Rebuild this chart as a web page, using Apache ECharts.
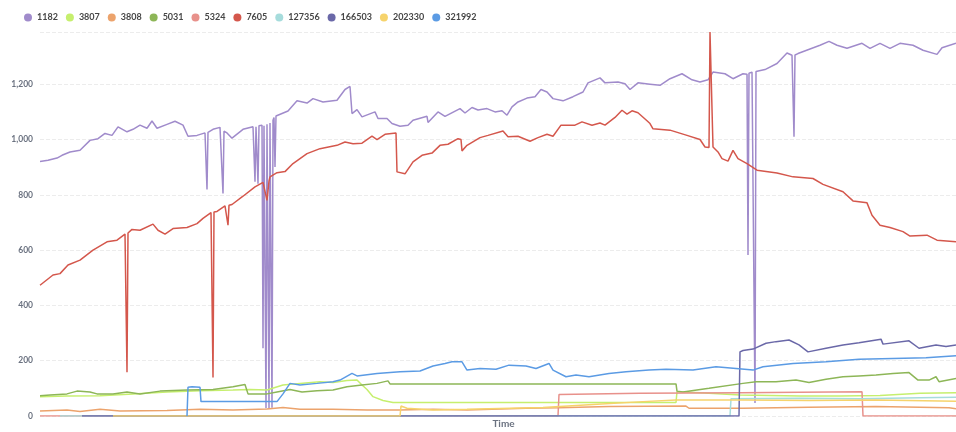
<!DOCTYPE html>
<html>
<head>
<meta charset="utf-8">
<script src="https://cdn.jsdelivr.net/npm/echarts@6/dist/echarts.min.js"></script>
<style>
  html, body { margin: 0; padding: 0; background: #fff; }
  #chart { width: 956px; height: 432px; }
</style>
</head>
<body>
<div id="chart"></div>
<script>
// series names (legend order) and colours
const names = ['1182', '3807', '3808', '5031', '5324', '7605', '127356', '166503', '202330', '321992'];
const colors = ['#a08bcb', '#c6ef6e', '#eca36c', '#8db657', '#e8918b', '#d4574c', '#a6dcdc', '#6a68a8', '#f6d36c', '#5b9be4'];

// [time, value] samples
const s1182 = [[0,921],[8,925],[17,933],[22,943],[30,955],[40,961],[50,997],[58,1003],[65,1022],[72,1015],[78,1046],[87,1028],[93,1037],[100,1052],[107,1041],[112,1067],[117,1041],[127,1055],[135,1066],[143,1052],[148,1012],[157,1015],[165,1024],[166,1022],[167,819],[168,1026],[173,1037],[180,1044],[182,1040],[183,805],[184,1030],[187,1024],[192,1005],[203,1037],[213,1046],[214,1045],[215,847],[216,1046],[217,1048],[218,840],[219,1050],[222,1052],[223,245],[224,1050],[225,1046],[226,28],[227,1055],[228,1050],[229,26],[230,1060],[231,1062],[232,30],[233,1070],[234,1080],[235,901],[236,1085],[237,1088],[248,1103],[257,1140],[267,1132],[273,1148],[283,1136],[297,1142],[305,1181],[310,1192],[312,1094],[317,1108],[322,1082],[335,1100],[338,1076],[347,1076],[352,1058],[360,1048],[368,1052],[373,1070],[387,1084],[388,1062],[398,1100],[405,1084],[420,1112],[425,1096],[432,1116],[438,1107],[447,1112],[455,1100],[462,1104],[467,1088],[472,1118],[478,1136],[487,1150],[495,1155],[501,1181],[507,1172],[513,1148],[523,1140],[533,1155],[543,1172],[548,1205],[560,1223],[565,1205],[578,1208],[585,1202],[590,1181],[598,1205],[610,1200],[620,1196],[630,1220],[642,1238],[652,1216],[660,1208],[668,1216],[673,1244],[685,1238],[693,1220],[703,1238],[707,1236],[708,582],[709,1240],[712,1244],[714,1245],[715,47],[716,1246],[717,1248],[725,1253],[737,1275],[747,1313],[752,1305],[753,1305],[754,1010],[755,1306],[758,1311],[768,1325],[780,1341],[789,1355],[797,1341],[807,1330],[822,1348],[830,1330],[840,1348],[850,1330],[860,1348],[873,1341],[883,1323],[897,1308],[902,1332],[916,1348]];
const s3807 = [[0,70],[27,72],[60,73],[93,80],[127,87],[160,91],[193,94],[210,96],[227,94],[243,112],[260,118],[280,124],[293,121],[307,128],[317,130],[322,112],[327,96],[333,70],[343,56],[353,49],[636,49],[637,88],[660,84],[700,76],[760,72],[800,72],[840,74],[880,82],[916,84]];
const s3808 = [[0,18],[27,22],[40,16],[60,24],[80,18],[127,20],[160,24],[193,22],[227,25],[243,31],[260,24],[293,24],[327,22],[360,22],[393,24],[427,22],[486,28],[519,30],[569,34],[646,36],[649,28],[703,28],[769,32],[836,34],[909,30],[916,26]];
const s5031 = [[0,73],[10,76],[27,80],[37,90],[50,87],[57,80],[73,80],[87,87],[100,80],[120,90],[147,94],[173,96],[193,106],[205,114],[208,80],[227,80],[237,87],[250,96],[262,87],[277,91],[293,94],[307,106],[322,112],[337,118],[348,127],[350,116],[636,116],[637,90],[643,87],[669,100],[703,118],[716,124],[736,124],[756,130],[769,121],[786,133],[803,142],[819,145],[836,148],[853,154],[869,157],[878,130],[889,130],[896,142],[899,124],[916,136]];
const s5324 = [[0,0],[518,0],[519,78],[600,82],[700,84],[760,86],[822,88],[823,0],[916,0]];
const s7605 = [[0,473],[13,510],[20,515],[28,546],[40,564],[53,600],[67,630],[77,636],[85,658],[86,660],[87,158],[88,662],[92,675],[100,672],[113,694],[118,672],[125,658],[133,678],[147,682],[157,696],[163,715],[171,736],[172,738],[173,139],[174,738],[177,740],[185,760],[187,758],[188,690],[189,762],[192,765],[203,795],[215,829],[223,845],[225,840],[227,780],[229,850],[230,865],[237,880],[245,884],[253,913],[267,949],[280,967],[297,979],[305,991],[313,985],[322,987],[332,1012],[337,1000],[345,1019],[356,1024],[357,883],[365,876],[373,919],[382,943],[392,951],[400,979],[408,983],[418,1003],[421,1000],[422,959],[427,979],[440,1007],[448,1015],[463,1031],[468,1010],[478,1012],[490,994],[498,1007],[507,1019],[513,1012],[521,1052],[535,1052],[542,1064],[552,1052],[560,1060],[565,1052],[575,1080],[582,1106],[587,1092],[592,1104],[598,1097],[607,1068],[610,1058],[613,1039],[630,1034],[647,1015],[660,1000],[665,973],[669,971],[670,1389],[672,1389],[673,973],[678,955],[682,931],[688,922],[693,961],[698,931],[707,913],[717,889],[737,879],[753,865],[773,859],[783,838],[803,811],[813,778],[827,771],[832,726],[840,690],[850,682],[863,667],[870,651],[887,654],[897,636],[916,630]];
const s127356 = [[20,0],[690,0],[691,62],[760,64],[820,62],[880,66],[916,68]];
const s166503 = [[42,0],[699,0],[700,232],[703,237],[713,242],[726,263],[736,269],[749,275],[759,257],[768,232],[786,245],[803,257],[819,265],[841,278],[843,260],[869,272],[879,245],[896,257],[906,251],[916,257]];
const s202330 = [[73,0],[360,0],[361,36],[367,28],[393,22],[427,24],[503,31],[553,42],[603,52],[636,58],[703,58],[769,56],[836,58],[916,53]];
const s321992 = [[147,0],[148,104],[152,106],[160,104],[161,52],[237,52],[243,80],[250,118],[260,112],[277,118],[293,124],[300,130],[312,154],[317,145],[337,154],[360,160],[380,163],[393,181],[405,190],[412,196],[422,196],[427,166],[440,172],[456,169],[469,184],[486,181],[496,172],[509,190],[513,166],[526,142],[536,148],[549,142],[569,154],[586,160],[609,166],[626,169],[653,166],[676,178],[696,172],[713,166],[723,178],[753,190],[786,196],[819,205],[853,208],[886,211],[916,218]];

const seriesData = [s1182, s3807, s3808, s5031, s5324, s7605, s127356, s166503, s202330, s321992];

const chart = echarts.init(document.getElementById('chart'));

const option = {
  color: colors,
  animation: false,
  textStyle: { fontFamily: 'Lato' },
  legend: {
    data: names,
    left: 19,
    top: 8,
    icon: 'circle',
    itemWidth: 8,
    itemHeight: 8,
    itemGap: 8,
    textStyle: { fontSize: 9, color: '#464646', fontWeight: 'bold', fontFamily: 'Lato' }
  },
  grid: { left: 40, right: 0, top: 32, bottom: 16, outerBoundsMode: 'none' },
  xAxis: {
    type: 'value',
    min: 0,
    max: 916,
    name: 'Time',
    nameLocation: 'middle',
    nameGap: 3,
    nameTextStyle: { fontSize: 10, color: '#6b7280', fontWeight: 'bold', fontFamily: 'Lato', padding: [0, 0, 0, 11] },
    axisLine: { show: false },
    axisTick: { show: false },
    axisLabel: { show: false },
    splitLine: { show: false }
  },
  yAxis: {
    type: 'value',
    min: 0,
    max: 'dataMax',
    interval: 200,
    axisLine: { show: false },
    axisTick: { show: false },
    axisLabel: { fontSize: 8.5, color: '#6b7280', fontWeight: 'bold', fontFamily: 'Lato', margin: 7, showMaxLabel: false },
    splitLine: { lineStyle: { type: 'dashed', color: '#ececec' } }
  },
  series: names.map((n, i) => ({
    name: n,
    type: 'line',
    data: seriesData[i],
    showSymbol: false,
    lineStyle: { width: 1.5 }
  }))
};

chart.setOption(option);
</script>
</body>
</html>
